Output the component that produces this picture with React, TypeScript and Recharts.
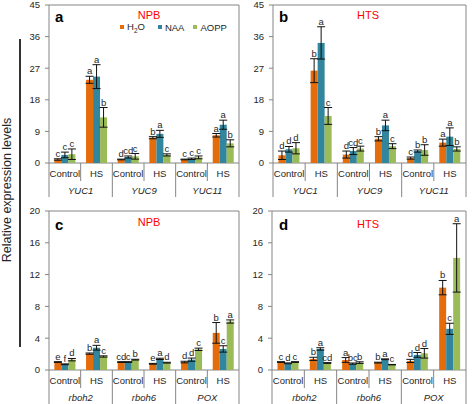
import {
  BarChart,
  Bar,
  XAxis,
  YAxis,
  ErrorBar,
  LabelList,
  ReferenceArea,
  Legend,
} from "recharts";

const FONT = "'Liberation Sans', Arial, sans-serif";
const FRAME = "#858585";
const INK = "#262626";

const conditions = ["Control", "HS", "Control", "HS", "Control", "HS"];
const genesTop = ["YUC1", "YUC9", "YUC11"];
const genesBottom = ["rboh2", "rboh6", "POX"];

const series = [
  { key: "h2o", name: "H2O", color: "#E46C0A" },
  { key: "naa", name: "NAA", color: "#31859C" },
  { key: "aopp", name: "AOPP", color: "#9BBB59" },
];

// a - NPB, YUC genes
const aH2O = [1.0, 23.7, 1.0, 7.2, 1.0, 7.9];
const aH2OErr = [0.2, 1.0, 0.1, 0.3, 0.1, 0.5];
const aH2OLet = ["c", "a", "d", "b", "c", "a"];
const aNAA = [2.3, 24.6, 1.7, 8.3, 1.2, 10.9];
const aNAAErr = [0.8, 3.4, 0.3, 1.0, 0.2, 1.3];
const aNAALet = ["c", "a", "cd", "a", "c", "a"];
const aAOPP = [2.5, 13.0, 1.9, 2.3, 1.6, 5.6];
const aAOPPErr = [1.5, 2.8, 0.8, 0.3, 0.4, 1.0];
const aAOPPLet = ["c", "b", "c", "c", "c", "b"];

// b - HTS, YUC genes
const bH2O = [2.2, 26.3, 2.4, 6.9, 1.4, 5.8];
const bH2OErr = [1.2, 3.4, 1.0, 0.6, 0.3, 1.0];
const bH2OLet = ["d", "b", "d", "b", "c", "a"];
const bNAA = [3.9, 34.2, 3.4, 10.7, 3.4, 7.5];
const bNAAErr = [0.8, 4.6, 1.0, 1.5, 0.3, 2.5];
const bNAALet = ["d", "a", "cd", "a", "b", "a"];
const bAOPP = [4.2, 13.4, 4.1, 4.8, 3.7, 4.0];
const bAOPPErr = [1.6, 2.4, 0.7, 0.7, 1.5, 0.6];
const bAOPPLet = ["d", "c", "c", "c", "b", "b"];

// c - NPB, rboh / POX
const cH2O = [1.0, 2.06, 1.0, 0.78, 1.0, 4.67];
const cH2OErr = [0.05, 0.08, 0.05, 0.05, 0.1, 1.3];
const cH2OLet = ["e", "b", "cd", "e", "d", "b"];
const cNAA = [0.72, 2.8, 1.0, 1.4, 1.3, 2.65];
const cNAAErr = [0.05, 0.3, 0.05, 0.08, 0.2, 0.4];
const cNAALet = ["f", "a", "c", "a", "d", "c"];
const cAOPP = [1.3, 1.7, 1.3, 0.92, 2.6, 6.1];
const cAOPPErr = [0.15, 0.08, 0.05, 0.05, 0.15, 0.2];
const cAOPPLet = ["d", "c", "b", "d", "c", "a"];

// d - HTS, rboh / POX
const dH2O = [1.0, 1.4, 1.26, 0.93, 1.14, 10.36];
const dH2OErr = [0.05, 0.2, 0.3, 0.05, 0.2, 0.9];
const dH2OLet = ["c", "b", "a", "b", "d", "b"];
const dNAA = [0.84, 2.65, 0.8, 1.35, 1.9, 5.18];
const dNAAErr = [0.05, 0.15, 0.08, 0.05, 0.3, 0.7];
const dNAALet = ["d", "a", "bc", "a", "d", "c"];
const dAOPP = [1.0, 0.88, 0.93, 0.67, 2.1, 14.1];
const dAOPPErr = [0.05, 0.05, 0.1, 0.03, 0.6, 4.3];
const dAOPPLet = ["c", "cd", "b", "c", "d", "a"];

const ticksTop = [0, 9, 18, 27, 36, 45];
const ticksBottom = [0, 4, 8, 12, 16, 20];

type Num = number[];
type Str = string[];

function buildRows(
  genes: string[],
  h2o: Num, h2oErr: Num, h2oLet: Str,
  naa: Num, naaErr: Num, naaLet: Str,
  aopp: Num, aoppErr: Num, aoppLet: Str
) {
  return conditions.map((cond, i) => ({
    id: `${genes[Math.floor(i / 2)]}-${cond}`,
    cond,
    gene: genes[Math.floor(i / 2)],
    h2o: h2o[i], h2oErr: h2oErr[i], h2oLet: h2oLet[i],
    naa: naa[i], naaErr: naaErr[i], naaLet: naaLet[i],
    aopp: aopp[i], aoppErr: aoppErr[i], aoppLet: aoppLet[i],
  }));
}

const rowsA = buildRows(genesTop, aH2O, aH2OErr, aH2OLet, aNAA, aNAAErr, aNAALet, aAOPP, aAOPPErr, aAOPPLet);
const rowsB = buildRows(genesTop, bH2O, bH2OErr, bH2OLet, bNAA, bNAAErr, bNAALet, bAOPP, bAOPPErr, bAOPPLet);
const rowsC = buildRows(genesBottom, cH2O, cH2OErr, cH2OLet, cNAA, cNAAErr, cNAALet, cAOPP, cAOPPErr, cAOPPLet);
const rowsD = buildRows(genesBottom, dH2O, dH2OErr, dH2OLet, dNAA, dNAAErr, dNAALet, dAOPP, dAOPPErr, dAOPPLet);

// letter above the error bar cap
const letterLabel = (rows: any[], errKey: string, pxPerUnit: number) => (props: any) => {
  const vb = props.viewBox ?? {};
  const x = Number(props.x ?? vb.x);
  const y = Number(props.y ?? vb.y);
  const w = Number(props.width ?? vb.width);
  const row = rows[props.index] ?? {};
  const err = row[errKey] ?? 0;
  return (
    <text
      x={x + w / 2}
      y={y - err * pxPerUnit - 2}
      textAnchor="middle"
      fontSize={9.5}
      fontFamily={FONT}
      fill={INK}
    >
      {props.value}
    </text>
  );
};

const XTick = (props: any) => {
  const { x, y, index, rows, plotW } = props;
  const half = props.payload?.offset || plotW / 12;
  const row = rows[index];
  const isControl = index % 2 === 0;
  return (
    <g>
      <text x={x} y={y + 14} textAnchor="middle" fontSize={9.5} fontFamily={FONT} fill={INK}>
        {row.cond}
      </text>
      {index === 0 && (
        <line x1={x - half} x2={x - half} y1={y} y2={y + 34} stroke={FRAME} />
      )}
      {isControl ? (
        <>
          <line x1={x + half} x2={x + half} y1={y} y2={y + 18} stroke={FRAME} />
          <text
            x={x + half}
            y={y + 31}
            textAnchor="middle"
            fontSize={9.5}
            fontStyle="italic"
            fontFamily={FONT}
            fill={INK}
          >
            {row.gene}
          </text>
        </>
      ) : (
        <line x1={x + half} x2={x + half} y1={y} y2={y + 34} stroke={FRAME} />
      )}
    </g>
  );
};

// legend keeps the series order (H2O, NAA, AOPP)
const LegendContent = () => (
  <div style={{ display: "flex", alignItems: "center", fontFamily: FONT, fontSize: 9.5, color: INK }}>
    {series.map((s, i) => (
      <div key={s.key} style={{ display: "flex", alignItems: "center", marginRight: i === 0 ? 13 : 9 }}>
        <span style={{ width: 4, height: 4, background: s.color, marginRight: 3, display: "inline-block" }} />
        {s.name === "H2O" ? (
          <span>
            H<sub style={{ fontSize: 6.5 }}>2</sub>O
          </span>
        ) : (
          <span>{s.name}</span>
        )}
      </div>
    ))}
  </div>
);

interface PanelProps {
  rows: any[];
  left: number;
  top: number;
  width: number;
  height: number;
  marginTop: number;
  yAxisWidth: number;
  marginRight: number;
  plotH: number;
  yMax: number;
  ticks: number[];
  showLegend?: boolean;
}

function Panel(p: PanelProps) {
  const pxPerUnit = p.plotH / p.yMax;
  const plotW = p.width - p.yAxisWidth - p.marginRight;
  return (
    <div style={{ position: "absolute", left: p.left, top: p.top }}>
      <BarChart
        width={p.width}
        height={p.height}
        data={p.rows}
        margin={{ top: p.marginTop, right: p.marginRight, bottom: 0, left: 0 }}
        barCategoryGap="17%"
        barGap={0}
      >
        <XAxis
          dataKey="id"
          interval={0}
          height={p.height - p.marginTop - p.plotH}
          axisLine={false}
          tickLine={false}
          tickSize={0}
          tickMargin={0}
          tick={<XTick rows={p.rows} plotW={plotW} />}
        />
        <YAxis
          type="number"
          domain={[0, p.yMax]}
          ticks={p.ticks}
          width={p.yAxisWidth}
          axisLine={false}
          tickLine={{ stroke: FRAME }}
          tickSize={4}
          tickMargin={5}
          tick={{ fontSize: 9.5, fill: INK, fontFamily: FONT }}
        />
        <ReferenceArea y1={0} y2={p.yMax} fill="none" stroke={FRAME} strokeWidth={1} />
        {p.showLegend && (
          <Legend
            layout="horizontal"
            verticalAlign="middle"
            align="center"
            content={<LegendContent />}
            wrapperStyle={{ position: "absolute", top: 21, left: 120, width: "auto", height: 12 }}
          />
        )}
        {series.map((s) => (
          <Bar
            key={s.key}
            dataKey={s.key}
            name={s.name}
            fill={s.color}
            isAnimationActive={false}
          >
            <ErrorBar
              dataKey={`${s.key}Err`}
              width={4}
              stroke="#111"
              strokeWidth={1}
              direction="y"
              isAnimationActive={false}
            />
            <LabelList
              dataKey={`${s.key}Let`}
              content={letterLabel(p.rows, `${s.key}Err`, pxPerUnit)}
            />
          </Bar>
        ))}
      </BarChart>
    </div>
  );
}

export default function App() {
  return (
    <div
      style={{
        position: "absolute",
        left: 0,
        top: 0,
        width: 472,
        height: 404,
        background: "#fff",
        overflow: "hidden",
      }}
    >
      <Panel rows={rowsA} left={0} top={0} width={240} height={200} marginTop={5} yAxisWidth={49} marginRight={1} plotH={158} yMax={45} ticks={ticksTop} showLegend />
      <Panel rows={rowsB} left={236} top={0} width={236} height={200} marginTop={5} yAxisWidth={37} marginRight={6} plotH={158} yMax={45} ticks={ticksTop} />
      <Panel rows={rowsC} left={0} top={200} width={240} height={204} marginTop={11} yAxisWidth={49} marginRight={1} plotH={159} yMax={20} ticks={ticksBottom} />
      <Panel rows={rowsD} left={236} top={200} width={236} height={204} marginTop={11} yAxisWidth={36} marginRight={6} plotH={159} yMax={20} ticks={ticksBottom} />
      <svg
        width={472}
        height={404}
        style={{ position: "absolute", left: 0, top: 0, pointerEvents: "none" }}
        fontFamily={FONT}
      >
        <line x1={20} x2={20} y1={39} y2={347} stroke="#333" strokeWidth={2} />
        <text x={11} y={190} transform="rotate(-90 11 190)" textAnchor="middle" fontSize={12.5} fill={INK}>
          Relative expression levels
        </text>
        <text x={55} y={22} fontSize={15} fontWeight="bold" fill="#000">a</text>
        <text x={279} y={22} fontSize={15} fontWeight="bold" fill="#000">b</text>
        <text x={55} y={230} fontSize={15} fontWeight="bold" fill="#000">c</text>
        <text x={279} y={230} fontSize={15} fontWeight="bold" fill="#000">d</text>
        <text x={149} y={19} fontSize={11} textAnchor="middle" fill="#FF0000">NPB</text>
        <text x={368} y={19} fontSize={11} textAnchor="middle" fill="#FF0000">HTS</text>
        <text x={149} y={226} fontSize={11} textAnchor="middle" fill="#FF0000">NPB</text>
        <text x={368} y={228} fontSize={11} textAnchor="middle" fill="#FF0000">HTS</text>
      </svg>
    </div>
  );
}
